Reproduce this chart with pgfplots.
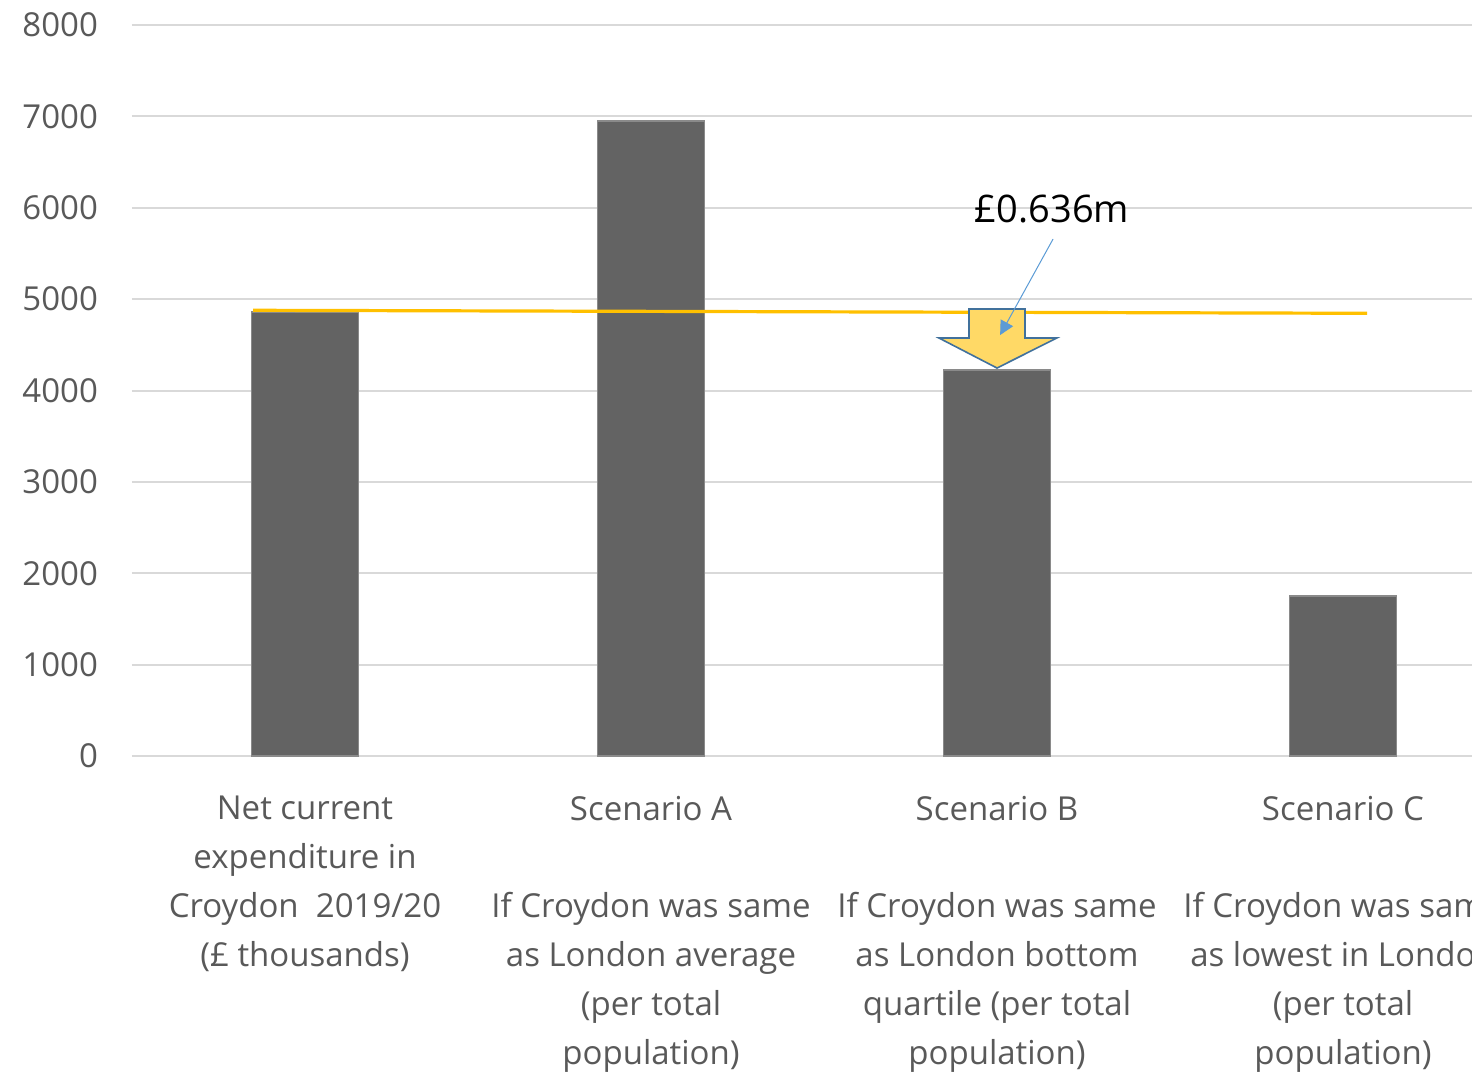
\documentclass[border=0pt]{standalone}
\usepackage{fontspec}
\setmainfont{Open Sans}
\usepackage{pgfplots}
\pgfplotsset{compat=1.18}
\usetikzlibrary{arrows.meta}
\definecolor{txt}{HTML}{595959}
\definecolor{grd}{HTML}{D9D9D9}
\definecolor{barc}{HTML}{636363}
\definecolor{ylw}{HTML}{FFC000}
\definecolor{arrowfill}{HTML}{FFD966}
\definecolor{arrowedge}{HTML}{41719C}
\definecolor{callout}{HTML}{5B9BD5}
\begin{document}
\begin{tikzpicture}
\path[use as bounding box] (-66pt,-158pt) rectangle (670pt,378pt);
\clip (-66pt,-158pt) rectangle (670pt,378pt);
\begin{axis}[
  scale only axis, width=670pt, height=365.5pt,
  at={(0,0)}, anchor=south west,
  xmin=-0.5, xmax=3.3728, ymin=0, ymax=8000,
  axis line style={draw=none},
  ytick={0,1000,...,8000},
  ymajorgrids, grid style={grd, line width=1pt},
  major tick length=0pt,
  xtick={0,1,2,3},
  xticklabels={
    {Net current\\expenditure in\\Croydon\ \ 2019/20\\(£ thousands)},
    {Scenario A\\ \\If Croydon was same\\as London average\\(per total\\population)},
    {Scenario B\\ \\If Croydon was same\\as London bottom\\quartile (per total\\population)},
    {Scenario C\\ \\If Croydon was same\\as lowest in London\\(per total\\population)}},
  xticklabel style={align=center, anchor=north, font=\fontsize{16.5}{24.4}\selectfont, text=txt, yshift=-16.5pt},
  yticklabel style={anchor=east, font=\fontsize{16.5}{20}\selectfont, text=txt, xshift=-13.5pt},
  /pgf/number format/assume math mode=true,
  /pgf/number format/1000 sep={},
  clip=false,
]
\addplot[ybar, bar width=53.5pt, fill=barc, draw=barc!75!white, line width=0.6pt]
  coordinates {(0,4859) (1,6949) (2,4224) (3,1751)};
\addplot[ylw, line width=1.6pt, mark=none]
  coordinates {(-0.15,4878) (3.07,4845)};
\draw[arrowedge, fill=arrowfill, line width=0.8pt, line join=miter]
  (axis cs:1.919,4892) -- (axis cs:2.081,4892) -- (axis cs:2.081,4575)
  -- (axis cs:2.173,4575) -- (axis cs:2.0,4246) -- (axis cs:1.832,4575)
  -- (axis cs:1.919,4575) -- cycle;
\draw[callout, line width=0.5pt, -{Triangle[length=7pt,width=7pt]}]
  (axis cs:2.162,5658) -- (axis cs:2.009,4607);
\node[font=\fontsize{19}{22}\selectfont, text=black] at (axis cs:2.159,5986) {£0.636m};
\end{axis}
\end{tikzpicture}
\end{document}
